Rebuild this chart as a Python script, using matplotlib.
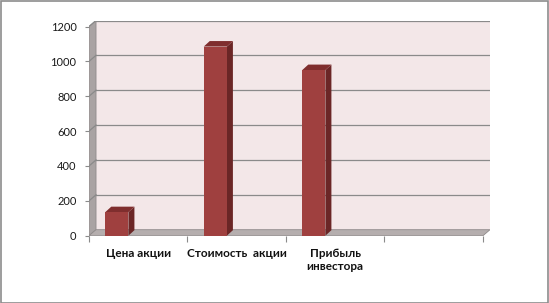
import matplotlib.pyplot as plt
from matplotlib.patches import Polygon, Rectangle

# --- data ---
categories = ['Цена акции', 'Стоимость  акции', 'Прибыль\nинвестора', '']
values = [135, 1085, 950, None]
y_ticks = [0, 200, 400, 600, 800, 1000, 1200]

plt.rcParams['font.family'] = ['Lato', 'DejaVu Sans']

W, H = 549, 303
fig = plt.figure(figsize=(W / 100, H / 100), dpi=100)

# axes box in pixels: front axis x 89..482, wall right edge 490, front zero y 235.7, wall top 20.5
left_px, right_px, top_px, bottom_px = 89, 490, 20.5, 235.7
ax = fig.add_axes([left_px / W, (H - bottom_px) / H,
                   (right_px - left_px) / W, (bottom_px - top_px) / H])

n = len(categories)
px_per_cat = 393 / n
px_per_val = (bottom_px - 26.7) / 1200
DX = 7 / px_per_cat          # depth of the chart box
DY = 6 / px_per_val
ymax = y_ticks[-1]
ax.set_xlim(0, n + DX)
ax.set_ylim(0, ymax + DY)
ax.set_facecolor('none')

# back wall
ax.add_patch(Rectangle((DX, DY), n, ymax, facecolor='#f3e7e8', edgecolor='none', zorder=0))
# left side wall
ax.add_patch(Polygon([(0, 0), (DX, DY), (DX, ymax + DY), (0, ymax)],
                     facecolor='#a9a3a3', edgecolor='#8f8a8a', lw=0.6, zorder=1))
# floor
ax.add_patch(Polygon([(0, 0), (n, 0), (n + DX, DY), (DX, DY)],
                     facecolor='#b5aeae', edgecolor='#8f8a8a', lw=0.6, zorder=1))

# gridlines on wall and side wall
for v in y_ticks[1:]:
    ax.plot([DX, n + DX], [v + DY, v + DY], color='#8a8a8a', lw=0.9, zorder=2)
    ax.plot([0, DX], [v, v + DY], color='#8a8a8a', lw=0.9, zorder=2)

# bars with pseudo 3D faces
bar_w = 0.235
bdx = 6 / px_per_cat
bdy = 5.5 / px_per_val
for i, v in enumerate(values):
    if v is None:
        continue
    x0 = i + 0.165
    x1 = x0 + bar_w
    ax.add_patch(Polygon([(x1, 0), (x1 + bdx, bdy), (x1 + bdx, v + bdy), (x1, v)],
                         facecolor='#6b2626', edgecolor='none', zorder=3))
    ax.add_patch(Polygon([(x0, v), (x1, v), (x1 + bdx, v + bdy), (x0 + bdx, v + bdy)],
                         facecolor='#7f2e2e', edgecolor='none', zorder=3))
    ax.add_patch(Rectangle((x0, 0), bar_w, v, facecolor='#9f403f', edgecolor='none', zorder=4))

# axes ticks and labels
for s in ax.spines.values():
    s.set_visible(False)
ax.set_yticks(y_ticks)
ax.set_yticklabels([str(t) for t in y_ticks], fontsize=8, color='#1a1a1a')
ax.tick_params(axis='y', length=3, width=0.8, color='#8a8a8a', pad=6)
ax.set_xticks([i + 0.5 for i in range(n)])
ax.set_xticklabels(categories, fontsize=8.5, fontweight='bold', color='#111111')
ax.set_xticks(range(n + 1), minor=True)
ax.tick_params(axis='x', which='major', length=0, pad=9)
ax.tick_params(axis='x', which='minor', length=4, width=0.8, color='#8a8a8a')

# outer border
fig.patches.append(Rectangle((0.5 / W, 0.5 / H), 1 - 1.5 / W, 1 - 1.5 / H, transform=fig.transFigure,
                             fill=False, edgecolor='#8c8c8c', lw=1.2))

fig.savefig('out.png', dpi=100)
